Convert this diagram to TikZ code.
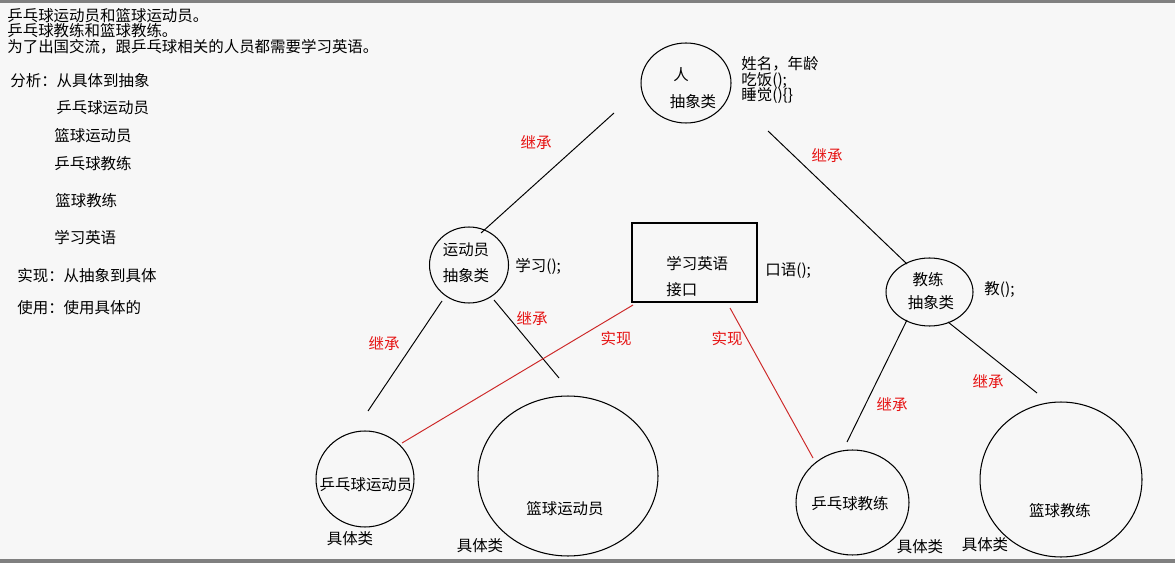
\documentclass[tikz,border=0pt]{standalone}
\usepackage{fontspec}
\setmainfont{Noto Sans CJK SC}
\usepackage{tikz}
\usetikzlibrary{positioning, shapes.geometric}
\definecolor{bggray}{RGB}{247,247,247}
\definecolor{bargray}{RGB}{128,128,128}
\definecolor{tagred}{RGB}{230,20,20}
\definecolor{linkred}{RGB}{205,40,40}

\begin{document}
\begin{tikzpicture}[
    x=0.02cm, y=-0.02cm,
    font=\fontsize{8.8}{8.8}\selectfont,
    txt/.style={inner sep=0pt, anchor=west, align=left},
    mid/.style={inner sep=0pt},
    tag/.style={inner sep=0pt, text=tagred},
    cls/.style={draw, ellipse, line width=0.6pt, inner sep=0pt},
    iface/.style={draw, rectangle, line width=0.7pt, inner sep=0pt},
    inherit/.style={line width=0.55pt},
    realize/.style={line width=0.55pt, linkred},
]
\useasboundingbox (0,0) rectangle (1175,563);
\fill[bggray] (0,0) rectangle (1175,563);
\fill[bargray] (0,0) rectangle (1175,3);
\fill[bargray] (0,559) rectangle (1175,563);

% task and analysis
\node[txt] (task) at (7,31) {乒乓球运动员和篮球运动员。\\乒乓球教练和篮球教练。\\为了出国交流，跟乒乓球相关的人员都需要学习英语。};
\node[txt] (ana) at (10,81) {分析：从具体到抽象};
\node[txt] (ana1) at (56,108) {乒乓球运动员};
\node[txt] (ana2) at (54,136) {篮球运动员};
\node[txt] (ana3) at (54,164) {乒乓球教练};
\node[txt] (ana4) at (55,201) {篮球教练};
\node[txt] (ana5) at (54,238) {学习英语};
\node[txt] (impl) at (17,276) {实现：从抽象到具体};
\node[txt] (use) at (17,308) {使用：使用具体的};

% abstract classes and interface
\node[cls, minimum width=1.8cm, minimum height=1.6cm] (ren) at (686,83) {};
\node[mid] (renname) at (681,75) {人};
\node[mid] (renkind) at (693,102) {抽象类};
\node[txt, font=\fontsize{8.8}{9.1}\selectfont] (renops) at (741,80) {姓名，年龄\\吃饭();\\睡觉()\{\}};

\node[cls, minimum width=1.58cm, minimum height=1.52cm] (ydy) at (469,265) {};
\node[mid] (ydyname) at (466,250) {运动员};
\node[mid] (ydykind) at (466,276) {抽象类};
\node[txt] (ydyops) at (515,266) {学习();};

\node[iface, minimum width=2.5cm, minimum height=1.58cm] (jk) at (694.5,262.5) {};
\node[txt] (jkname) at (666,264) {学习英语};
\node[txt] (jkkind) at (666,290) {接口};
\node[txt] (jkops) at (765,271) {口语();};

\node[cls, minimum width=1.74cm, minimum height=1.36cm] (jl) at (929.5,292) {};
\node[mid] (jlname) at (928,280) {教练};
\node[mid] (jlkind) at (931,303) {抽象类};
\node[txt] (jlops) at (984,290) {教();};

% concrete classes
\node[cls, minimum width=1.96cm, minimum height=1.92cm] (ppyd) at (365,479) {};
\node[mid] (ppydname) at (366,485) {乒乓球运动员};
\node[mid] (ppydkind) at (350,539) {具体类};

\node[cls, minimum width=3.6cm, minimum height=3.2cm] (lqyd) at (568,476) {};
\node[mid] (lqydname) at (565,509) {篮球运动员};
\node[mid] (lqydkind) at (480,546) {具体类};

\node[cls, minimum width=2.26cm, minimum height=2.1cm] (ppjl) at (852.5,502.5) {};
\node[mid] (ppjlname) at (850,504) {乒乓球教练};
\node[mid] (ppjlkind) at (920,547) {具体类};

\node[cls, minimum width=3.24cm, minimum height=3.1cm] (lqjl) at (1061,479.5) {};
\node[mid] (lqjlname) at (1060,511) {篮球教练};
\node[mid] (lqjlkind) at (985,545) {具体类};

% line ends
\coordinate (ren-a) at (614,113);
\coordinate (ren-b) at (768,131);
\coordinate (ydy-a) at (481,233);
\coordinate (ydy-b) at (442,301);
\coordinate (ydy-c) at (494,300);
\coordinate (jl-a) at (907,264);
\coordinate (jl-b) at (907,320);
\coordinate (jl-c) at (948,322);
\coordinate (jk-a) at (633,305);
\coordinate (jk-b) at (730,308);
\coordinate (ppyd-a) at (368,411);
\coordinate (ppyd-b) at (402,443);
\coordinate (lqyd-a) at (559,378);
\coordinate (ppjl-a) at (847,442);
\coordinate (ppjl-b) at (813,458);
\coordinate (lqjl-a) at (1037,393);

\draw[inherit] (ren-a) -- (ydy-a);
\draw[inherit] (ren-b) -- (jl-a);
\draw[inherit] (ydy-b) -- (ppyd-a);
\draw[inherit] (ydy-c) -- (lqyd-a);
\draw[inherit] (jl-b) -- (ppjl-a);
\draw[inherit] (jl-c) -- (lqjl-a);
\draw[realize] (jk-a) -- (ppyd-b);
\draw[realize] (jk-b) -- (ppjl-b);

\node[tag] (t1) at (536,143) {继承};
\node[tag] (t2) at (827,156) {继承};
\node[tag] (t3) at (384,344) {继承};
\node[tag] (t4) at (532,319) {继承};
\node[tag] (t5) at (892,405) {继承};
\node[tag] (t6) at (988,382) {继承};
\node[tag] (t7) at (616,339) {实现};
\node[tag] (t8) at (727,339) {实现};
\end{tikzpicture}
\end{document}
